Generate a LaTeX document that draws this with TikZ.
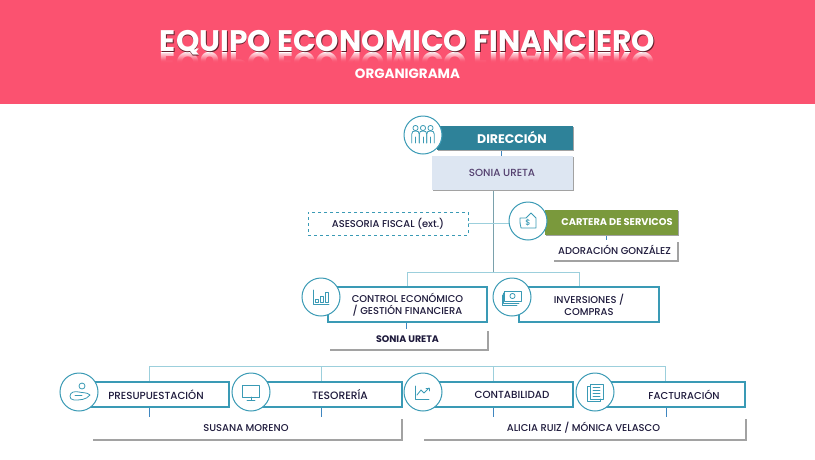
\documentclass[tikz,border=0pt]{standalone}
\usepackage{fontspec}
\setmainfont{Poppins}[UprightFont=* Medium,BoldFont=* Bold]
\definecolor{pinkhd}{HTML}{FB5270}
\definecolor{tealln}{HTML}{3A9AB5}
\definecolor{busln}{HTML}{9CCFDC}
\definecolor{tealbx}{HTML}{2E8299}
\definecolor{greenbx}{HTML}{7A993C}
\definecolor{soniabx}{HTML}{DDE6F2}
\definecolor{ink}{HTML}{1E1A3C}
\definecolor{plum}{HTML}{54406F}
\definecolor{shade}{HTML}{A2A2A2}
\definecolor{stub}{HTML}{3F86C0}
\newcommand{\fs}[1]{\fontsize{#1}{12}\selectfont}
\tikzset{
  lbl/.style={font=\fontsize{9.9}{12}\selectfont,text=ink,align=center,inner sep=0pt},
  namebox/.style={lbl,fill=white,rectangle,minimum height=20pt,
     preaction={fill=shade,transform canvas={xshift=1.6pt,yshift=-1.8pt}}},
  framebox/.style={lbl,draw=tealln,line width=1.2pt,fill=white,rectangle,
     preaction={fill=black!12,transform canvas={xshift=1.4pt,yshift=-1.4pt}}},
  colbox/.style={rectangle,inner sep=0pt,font=\bfseries\fontsize{12.5}{13}\selectfont,text=white,
     preaction={fill=shade,transform canvas={xshift=1.4pt,yshift=-1.4pt}}},
  iconring/.style={circle,draw=tealln,line width=1pt,fill=white,minimum size=38pt,inner sep=0pt},
  bus/.style={draw=busln,line width=1pt},
  stubline/.style={draw=stub,line width=0.8pt},
  trunk/.style={draw=black!22!busln,line width=0.9pt},
  ico/.style={draw=tealln,line width=0.8pt,line join=round,line cap=round},
}
\begin{document}
\begin{tikzpicture}[x=1pt,y=-1pt]
\useasboundingbox (0,0) rectangle (815,459);
\fill[white] (0,0) rectangle (815,459);
% header
\fill[pinkhd] (0,0) rectangle (815,104);
\def\ttl{EQUIPO ECONOMICO FINANCIERO}
\node[anchor=base,yscale=-1,inner sep=0pt,text=white,font=\bfseries\fontsize{29.7}{34}\selectfont] (titlerefl) at (407.5,52.5) {\ttl};
\foreach \i/\o in {0/.25,1/.35,2/.45,3/.55,4/.65,5/.75,6/.85,7/.92,8/.97,9/.99,10/1}{
  \fill[pinkhd,opacity=\o] (140,52.5+\i) rectangle (675,53.5+\i);}
\fill[pinkhd] (140,63) rectangle (675,80);
\node[anchor=base,inner sep=0pt,text=black!60!pinkhd,font=\bfseries\fontsize{29.7}{34}\selectfont] (titleshadow) at (408.2,52.3) {\ttl};
\node[anchor=base,inner sep=0pt,text=white,font=\bfseries\fontsize{29.7}{34}\selectfont] (title) at (407.5,51.5) {\ttl};
\node[inner sep=0pt,text=white,font=\bfseries\fontsize{13.5}{14}\selectfont] (subtitle) at (407.5,73.5) {ORGANIGRAMA};

% coordinates of the buses
\coordinate (trunkTop) at (493,190);
\coordinate (bus1) at (493,272);
\coordinate (bus1L) at (407,272);
\coordinate (bus1R) at (579,272);
\coordinate (bus2L) at (149,366);
\coordinate (bus2A) at (321,366);
\coordinate (bus2B) at (493,366);
\coordinate (bus2R) at (665,366);
\coordinate (asesR) at (468,223);
\coordinate (carL) at (509,223);
% connectors
\draw[trunk] (trunkTop) -- (bus1);
\draw[bus] (asesR) -- (carL);
\draw[bus] (bus1L) -- (bus1R);
\draw[bus] (bus1L) -- (407,287);
\draw[bus] (bus1R) -- (579,287);
\draw[bus] (bus2L) -- (bus2R);
\foreach \c/\y in {bus2L/149,bus2A/321,bus2B/493,bus2R/665}{\draw[bus] (\c) -- (\y,382);}
\draw[stubline] (501,150) -- (501,156);
\draw[stubline] (606,235) -- (606,240);
\draw[stubline] (406,322) -- (406,329);
\foreach \y in {149,321,493,666}{\draw[stubline] (\y,407) -- (\y,417);}

% top
\node[colbox,fill=tealbx,minimum width=136pt,minimum height=24pt] (dir) at (505,138) {\hspace*{14pt}\raisebox{1.2pt}{DIRECCIÓN}};
\node[lbl,rectangle,fill=soniabx,text=plum,minimum width=141pt,minimum height=34pt,font=\fs{10.3},
      preaction={fill=shade,transform canvas={xshift=1.4pt,yshift=-1.4pt}}] (sonia) at (502,173) {SONIA URETA};
\node[lbl,draw=tealln,dashed,line width=0.9pt,fill=white,minimum width=160pt,minimum height=23pt] (ases) at (388,223.5) {ASESORIA FISCAL (ext.)};
\node[colbox,fill=greenbx,minimum width=133pt,minimum height=25pt,font=\bfseries\fontsize{9.8}{12}\selectfont] (cart) at (611.5,222.5) {\hspace*{11pt}\raisebox{-1.2pt}{CARTERA DE SERVICOS}};
\node[namebox,minimum width=125pt] (ador) at (614.5,250) {ADORACIÓN GONZÁLEZ};

% middle
\node[framebox,minimum width=159pt,minimum height=35pt] (ctrl) at (407.5,304.5) {CONTROL ECONÓMICO\\/ GESTIÓN FINANCIERA};
\node[framebox,minimum width=140pt,minimum height=35pt] (inv) at (589,304.5) {INVERSIONES /\\COMPRAS};
\node[namebox,minimum width=159pt] (sonia2) at (407.5,339) {\bfseries\fs{9.5}SONIA URETA};

% bottom
\node[framebox,minimum width=146pt,minimum height=25pt,font=\fs{10.3}] (pres) at (156,394.5) {PRESUPUESTACIÓN};
\node[framebox,minimum width=146pt,minimum height=25pt,font=\fs{10.7}] (teso) at (329,394.5) {\hspace*{22pt}\raisebox{0.8pt}{TESORERÍA}};
\node[framebox,minimum width=143pt,minimum height=25pt,font=\fs{10.3}] (cont) at (501.5,394.5) {\hspace*{21pt}CONTABILIDAD};
\node[framebox,minimum width=143pt,minimum height=25pt,font=\fs{10}] (fact) at (673.5,394.5) {\hspace*{21pt}FACTURACIÓN};
\node[namebox,minimum width=310pt,minimum height=22pt] (susa) at (246,428) {SUSANA MORENO};
\node[namebox,minimum width=323pt,minimum height=22pt] (alic) at (583.5,428) {ALICIA RUIZ / MÓNICA VELASCO};

% icon rings
\node[iconring] (icoDir) at (423,135) {};
\node[iconring] (icoCart) at (528,221) {};
\node[iconring] (icoCtrl) at (321,297) {};
\node[iconring] (icoInv) at (512,297) {};
\node[iconring] (icoPres) at (79,392) {};
\node[iconring] (icoTeso) at (251,392) {};
\node[iconring] (icoCont) at (423,392) {};
\node[iconring] (icoFact) at (595,392) {};

% people
\begin{scope}[shift={(icoDir.center)}]
 \foreach \x in {-7.5,0,7.5}{
  \draw[ico] (\x,-7) circle (2.6);
  \draw[ico] (\x-3.7,8) -- (\x-3.7,-1) .. controls (\x-3.7,-3.5) and (\x-2.5,-4) .. (\x,-4) .. controls (\x+2.5,-4) and (\x+3.7,-3.5) .. (\x+3.7,-1) -- (\x+3.7,8);
  \draw[ico] (\x,2) -- (\x,8);}
\end{scope}
% house with dollar
\begin{scope}[shift={(icoCart.center)}]
 \draw[ico] (-8,-3) -- (-2,-3) -- (3,-8) -- (8,-3) -- (8,7) -- (-7,7) .. controls (-8,4) and (-8,1) .. (-8,-3);
 \node[inner sep=0pt,text=tealln,font=\fontsize{8}{9}\selectfont] (dollar) at (0,2) {\$};
\end{scope}
% bars
\begin{scope}[shift={(icoCtrl.center)}]
 \draw[ico] (-8,-7) -- (-8,7) -- (8,7);
 \foreach \x/\h in {-5.5/3,-0.5/6,4.5/10}{\draw[ico] (\x,5) rectangle (\x+3,5-\h);}
\end{scope}
% banknote
\begin{scope}[shift={(icoInv.center)}]
 \draw[ico] (-8,-6) rectangle (9,4);
 \draw[ico] (0.5,-1) circle (2.6);
 \draw[ico] (-9,-4) -- (-9,6) -- (7,6);
 \draw[ico] (-10,-2) -- (-10,8) -- (5,8);
\end{scope}
% hand with coin
\begin{scope}[shift={(icoPres.center)}]
 \draw[ico] (3,-6) circle (3);
 \draw[ico] (-9,4) .. controls (-9,0) and (-4,-1) .. (0,0) .. controls (3,1) and (8,0) .. (11,3) .. controls (7,8) and (1,8) .. (-5,8) .. controls (-8,8) and (-9,6) .. (-9,4);
 \draw[ico] (-4,3) -- (3,3);
\end{scope}
% monitor
\begin{scope}[shift={(icoTeso.center)}]
 \draw[ico] (-8.5,-7) rectangle (8.5,5);
 \draw[ico] (0,5) -- (0,8);
 \draw[ico] (-4,8.5) -- (4,8.5);
\end{scope}
% line chart
\begin{scope}[shift={(icoCont.center)}]
 \draw[ico] (-8,-6) -- (-8,7) -- (6,7);
 \draw[ico] (-6,3) -- (-2,-2) -- (1,1) -- (6,-4);
 \draw[ico] (3,-4) -- (6,-4) -- (6,-1);
\end{scope}
% document
\begin{scope}[shift={(icoFact.center)}]
 \draw[ico] (-5,-8) rectangle (8,7);
 \draw[ico] (-5,-6) -- (-7.5,-6) -- (-7.5,9) -- (5,9) -- (5,7);
 \foreach \y in {-4.5,-1.5,1.5,4.5}{\draw[ico] (-2,\y) -- (5,\y);}
\end{scope}
\end{tikzpicture}
\end{document}
